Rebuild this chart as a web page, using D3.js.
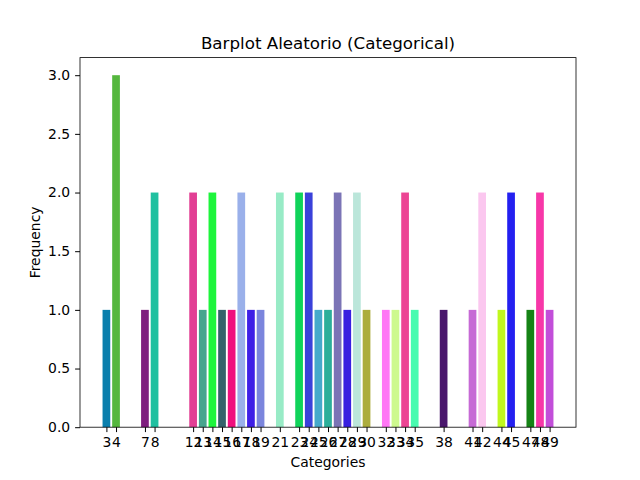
<!DOCTYPE html>
<html><head><meta charset="utf-8">
<script src="https://cdn.jsdelivr.net/npm/d3@7"></script>
<style>body{margin:0;background:#fff}text{font-family:"DejaVu Sans",sans-serif}</style>
</head><body><svg id="chart" width="640" height="480"></svg>
<script>
const categories = [3,4,7,8,12,13,14,15,16,17,18,19,21,23,24,25,26,27,28,29,30,32,33,34,35,38,41,42,44,45,47,48,49];
const frequencies = [1,3,1,2,2,1,2,1,1,2,1,1,2,2,2,1,1,2,1,2,1,1,1,2,1,1,1,2,1,2,1,2,1];
const colors = ["#0a7fad","#55b73e","#7f1f7f","#20c0a0","#e23f94","#47a58e","#1ef53c","#35626b","#f00f7e","#9ab0ea","#3f1fe6","#7b85dd",
  "#98ebc6","#10d35a","#3a41da","#45a9cb","#2baf9a","#7b74b6","#381fe0","#bbe6da","#acad3d","#ff77f5","#cdf98e","#ec4594","#48fbb0",
  "#4a176d","#c66ad5","#fbc7ef","#c0f71e","#2420f0","#168316","#f737a8","#c24ed9"];
const yTicks = [0,0.5,1,1.5,2,2.5,3];

const svg = d3.select("#chart");
const m = {left: 80, right: 576, top: 57.6, bottom: 427.2};
const lo = 3 - 0.4, hi = 49 + 0.4, pad = (hi - lo) * 0.05;
const x = d3.scaleLinear().domain([lo - pad, hi + pad]).range([m.left, m.right]);
const y = d3.scaleLinear().domain([0, 3.15]).range([m.bottom, m.top]);

svg.selectAll("rect.bar")
  .data(categories)
  .join("rect")
  .attr("x", (d) => x(d - 0.4))
  .attr("width", (d) => x(d + 0.4) - x(d - 0.4))
  .attr("y", (d, i) => y(frequencies[i]))
  .attr("height", (d, i) => y(0) - y(frequencies[i]))
  .attr("fill", (d, i) => colors[i]);

const xAxis = svg.append("g").attr("transform", `translate(0,${m.bottom})`)
  .call(d3.axisBottom(x).tickValues(categories).tickFormat(d3.format("d")).tickSize(4.9).tickPadding(4.9).tickSizeOuter(0));
const yAxis = svg.append("g").attr("transform", `translate(${m.left},0)`)
  .call(d3.axisLeft(y).tickValues(yTicks).tickFormat(d3.format(".1f")).tickSize(4.9).tickPadding(4.9).tickSizeOuter(0));
[xAxis, yAxis].forEach(a => {
  a.select(".domain").remove();
  a.selectAll("text").attr("font-size", 13.9).attr("fill", "#000");
  a.selectAll("line").attr("stroke", "#000");
});

svg.append("rect").attr("x", m.left).attr("y", m.top)
  .attr("width", m.right - m.left).attr("height", m.bottom - m.top)
  .attr("fill", "none").attr("stroke", "#000").attr("stroke-width", 0.8);

svg.append("text").attr("x", (m.left + m.right) / 2).attr("y", 49).attr("text-anchor", "middle")
  .attr("font-size", 16.7).text("Barplot Aleatorio (Categorical)");
svg.append("text").attr("x", (m.left + m.right) / 2).attr("y", 467).attr("text-anchor", "middle")
  .attr("font-size", 13.9).text("Categories");
svg.append("text").attr("transform", `translate(40,${(m.top + m.bottom) / 2}) rotate(-90)`)
  .attr("text-anchor", "middle").attr("font-size", 13.9).text("Frequency");
</script></body></html>
